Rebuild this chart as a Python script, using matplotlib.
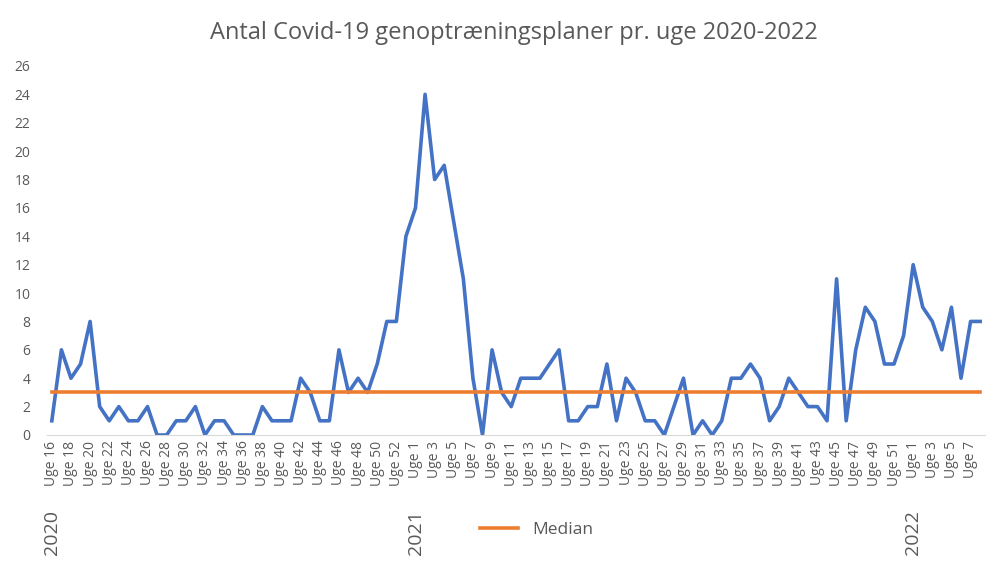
import matplotlib
matplotlib.use("Agg")
import matplotlib.pyplot as plt
import matplotlib.transforms as mtransforms
import numpy as np

plt.rcParams['font.family'] = ['Open Sans', 'DejaVu Sans']

# weeks per year
weeks_2020 = list(range(16, 54))
weeks_2021 = list(range(1, 53))
weeks_2022 = list(range(1, 9))

values_2020 = [1, 6, 4, 5, 8, 2, 1, 2, 1, 1, 2, 0, 0, 1, 1, 2, 0, 1, 1, 0,
               0, 0, 2, 1, 1, 1, 4, 3, 1, 1, 6, 3, 4, 3, 5, 8, 8, 14]
values_2021 = [16, 24, 18, 19, 15, 11, 4, 0, 6, 3, 2, 4, 4, 4, 5, 6, 1, 1, 2, 2,
               5, 1, 4, 3, 1, 1, 0, 2, 4, 0, 1, 0, 1, 4, 4, 5, 4, 1, 2, 4,
               3, 2, 2, 1, 11, 1, 6, 9, 8, 5, 5, 7]
values_2022 = [12, 9, 8, 6, 9, 4, 8, 8]
median = 3

years = ["2020", "2021", "2022"]

weeks = weeks_2020 + weeks_2021 + weeks_2022
values = values_2020 + values_2021 + values_2022
labels = ["Uge %d" % w for w in weeks]
x = np.arange(len(values))
year_starts = [0, len(weeks_2020), len(weeks_2020) + len(weeks_2021)]

grey = '#595959'
fig = plt.figure(figsize=(10.03, 5.62), dpi=100)
ax = fig.add_axes([0.0469, 0.226, 0.9351, 0.6566])

ax.plot(x, values, color='#4472C4', linewidth=2.6)
ax.plot(x, [median] * len(x), color='#ED7D31', linewidth=2.6, label='Median')

ax.set_xlim(-0.5, len(x) - 0.5)
ax.set_ylim(0, 26)
ax.set_yticks(np.arange(0, 27, 2))
ax.set_xticks(x[::2])
ax.set_xticklabels(labels[::2], rotation=90, fontsize=10, color=grey)
ax.tick_params(axis='y', labelsize=10, colors=grey, length=0, pad=12)
ax.tick_params(axis='x', length=0, pad=4)
for s in ['top', 'right', 'left']:
    ax.spines[s].set_visible(False)
ax.spines['bottom'].set_color('#D9D9D9')

trans = mtransforms.blended_transform_factory(ax.transData, fig.transFigure)
for yr, pos in zip(years, year_starts):
    ax.text(pos, 0.012, yr, rotation=90, transform=trans, ha='center',
            va='bottom', fontsize=14, color=grey)

fig.text(0.512, 0.941, "Antal Covid-19 genoptræningsplaner pr. uge 2020-2022",
         ha='center', va='center', fontsize=17, color=grey)
fig.legend(loc='center', bbox_to_anchor=(0.535, 0.057), frameon=False,
           fontsize=12.5, labelcolor=grey, handlelength=2.2)

plt.savefig("out.png", dpi=100)
